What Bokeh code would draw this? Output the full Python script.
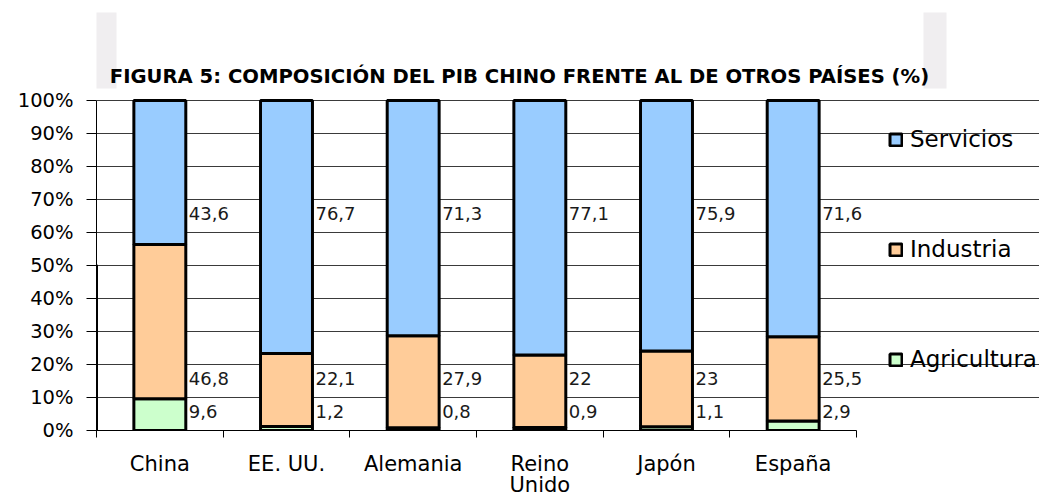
from bokeh.plotting import figure
from bokeh.models import (ColumnDataSource, FixedTicker, Legend, LegendItem,
                          BoxAnnotation, NumeralTickFormatter, Range1d, LabelSet, Label)
from bokeh.transform import dodge
from bokeh.core.properties import value
from bokeh.embed import file_html
from bokeh.resources import INLINE

# ---- data ----
countries = ["China", "EE. UU.", "Alemania", "Reino\nUnido", "Japón", "España"]
agricultura = [9.6, 1.2, 0.8, 0.9, 1.1, 2.9]
industria = [46.8, 22.1, 27.9, 22, 23, 25.5]
servicios = [43.6, 76.7, 71.3, 77.1, 75.9, 71.6]
series_names = ["Agricultura", "Industria", "Servicios"]
series_values = [agricultura, industria, servicios]
series_colors = ["#CCFFCC", "#FFCC99", "#99CCFF"]
legend_order = ["Servicios", "Industria", "Agricultura"]
label_heights = [0.058, 0.158, 0.658]   # fixed label positions (fraction of axis)
y_ticks = [i / 10 for i in range(11)]
title = "FIGURA 5: COMPOSICIÓN DEL PIB CHINO FRENTE AL DE OTROS PAÍSES (%)"

# ---- layout constants (pixels) ----
W, H = 1039, 500
LEFT = 96          # y axis position
BOTTOM_PX = 430    # y = 0
TOP_PX = 100       # y = 1
RIGHT_PX = 856     # end of category axis
FONT = "DejaVu Sans"
BAR_W = 0.41

n = len(countries)
px_per_x = (RIGHT_PX - LEFT) / n
px_per_y = (BOTTOM_PX - TOP_PX)


def X(px):
    return (px - LEFT) / px_per_x


def Y(py):
    return (BOTTOM_PX - py) / px_per_y


xs = [i + 0.5 for i in range(n)]

p = figure(width=W, height=H, output_backend="svg", toolbar_location=None, title=None,
           x_range=Range1d(0, X(W)), y_range=Range1d(0, Y(0)),
           min_border_left=LEFT, min_border_right=0, min_border_top=0,
           min_border_bottom=H - BOTTOM_PX)
p.outline_line_color = None
p.background_fill_color = "white"
p.border_fill_color = "white"

# gray decorative boxes at the top
for l, r in [(92, 116), (923, 946)]:
    p.add_layout(BoxAnnotation(left=X(l), right=X(r), top=Y(12), bottom=Y(88),
                               fill_color="#f0eef0", fill_alpha=1, line_color=None,
                               level="underlay"))

# title
p.add_layout(Label(x=X(519), y=Y(76), text=title, text_align="center",
                   text_baseline="middle", text_font=FONT, text_font_style="bold",
                   text_font_size="19.6px", text_color="black"))

# stacked bars
bottom = [0.0] * n
proxies = {}
for name, vals, col, lh in zip(series_names, series_values, series_colors, label_heights):
    top = [b + v / 100 for b, v in zip(bottom, vals)]
    src = ColumnDataSource(dict(x=xs, bottom=bottom, top=top,
                                lab=[f"{v:g}".replace(".", ",") for v in vals],
                                ly=[lh] * n))
    p.vbar(x="x", width=BAR_W, bottom="bottom", top="top", source=src,
           fill_color=col, line_color="black", line_width=3)
    p.add_layout(LabelSet(x=dodge("x", BAR_W / 2, range=p.x_range), y="ly", text="lab",
                          source=src, x_offset=3, text_align="left",
                          text_baseline="middle", text_font=value(FONT),
                          text_font_size=value("18px"), text_color=value("#1a1a1a")))
    # legend proxy renderer (point outside the visible range)
    proxies[name] = p.vbar(x=[-5], width=BAR_W, top=[0.5], fill_color=col,
                           line_color="black", line_width=3)
    bottom = top

legend = Legend(items=[LegendItem(label=nm, renderers=[proxies[nm]]) for nm in legend_order],
                location=(888 - LEFT, 58), orientation="vertical")
legend.border_line_color = None
legend.background_fill_alpha = 0
legend.label_text_font = FONT
legend.label_text_font_size = "23px"
legend.label_text_color = "black"
legend.glyph_width = 15
legend.glyph_height = 15
legend.label_standoff = 7
legend.spacing = 84
legend.padding = 10
legend.margin = 0
p.add_layout(legend)

# y axis
p.yaxis.bounds = (0, 1)
p.yaxis.ticker = FixedTicker(ticks=y_ticks)
p.yaxis.formatter = NumeralTickFormatter(format="0%")
p.yaxis.major_tick_in = 0
p.yaxis.major_tick_out = 10
p.yaxis.minor_tick_out = 0
p.yaxis.minor_tick_in = 0
p.yaxis.major_label_standoff = 13
p.yaxis.major_label_text_font = FONT
p.yaxis.major_label_text_font_size = "19.5px"
p.yaxis.major_label_text_color = "black"
p.yaxis.axis_line_color = "black"
p.yaxis.major_tick_line_color = "black"

p.ygrid.ticker = FixedTicker(ticks=y_ticks)
p.ygrid.bounds = (0, n)
p.ygrid.grid_line_color = "#3a3a3a"
p.xgrid.grid_line_color = None

# x axis: labels at centres, ticks at boundaries
p.xaxis.bounds = (0, n)
p.xaxis.ticker = FixedTicker(ticks=xs, minor_ticks=list(range(n + 1)))
p.xaxis.major_label_overrides = {x: c for x, c in zip(xs, countries)}
p.xaxis.major_tick_out = 0
p.xaxis.major_tick_in = 0
p.xaxis.minor_tick_out = 7
p.xaxis.minor_tick_in = 0
p.xaxis.minor_tick_line_color = "black"
p.xaxis.axis_line_color = "black"
p.xaxis.major_label_standoff = 14
p.xaxis.major_label_text_font = FONT
p.xaxis.major_label_text_font_size = "21px"
p.xaxis.major_label_text_color = "black"
p.xaxis.major_label_text_line_height = 0.9

open("out.html", "w").write(file_html(p, INLINE))
